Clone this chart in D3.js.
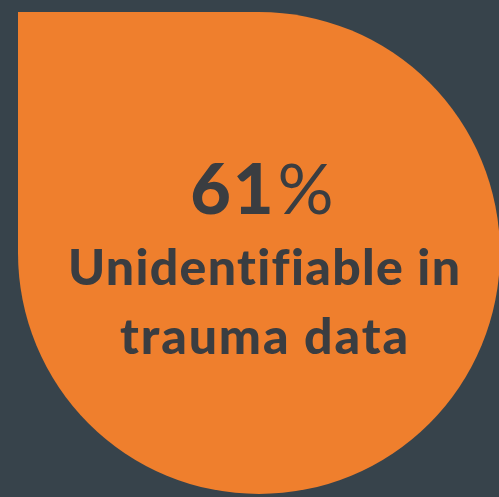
<!DOCTYPE html>
<html>
<head>
<meta charset="utf-8">
<script src="https://d3js.org/d3.v7.min.js"></script>
<style>
  body { margin: 0; background: #37434b; }
  svg { display: block; }
  .label { font-family: Lato, "Noto Sans", sans-serif; font-weight: 900; fill: #3a3d41; font-variant-ligatures: none; }
</style>
</head>
<body>
<div id="chart"></div>
<script>
// the one stat shown in the drop
var value = 61;
var labelLines = ["Unidentifiable in", "trauma data"];

var width = 499, height = 497;
var cx = 259, cy = 253, r = 241;

var svg = d3.select("#chart").append("svg")
    .attr("width", width)
    .attr("height", height);

svg.append("rect")
    .attr("width", width)
    .attr("height", height)
    .attr("fill", "#37434b");

// drop shape: square top-left corner, the rest a circle
var p = d3.path();
p.moveTo(cx - r, cy - r);
p.lineTo(cx, cy - r);
p.arc(cx, cy, r, -Math.PI / 2, Math.PI, false);
p.closePath();

svg.append("path")
    .attr("d", p.toString())
    .attr("fill", "#ef7f2d");

var big = svg.append("text")
    .attr("class", "label")
    .attr("x", 263)
    .attr("y", 214)
    .attr("text-anchor", "middle")
    .style("font-size", "70px")
    .style("letter-spacing", "2px");
big.append("tspan").text(String(value));
big.append("tspan").attr("dx", 2).style("font-weight", 400).text("%");

var lineY = [285, 354];
var lineW = [392, 288];
svg.selectAll("text.line")
  .data(labelLines)
  .enter()
  .append("text")
    .attr("class", "label line")
    .attr("x", 264)
    .attr("y", function(d, i) { return lineY[i]; })
    .attr("text-anchor", "middle")
    .attr("textLength", function(d, i) { return lineW[i]; })
    .attr("lengthAdjust", "spacing")
    .style("font-size", "50px")
    .text(function(d) { return d; });
</script>
</body>
</html>
